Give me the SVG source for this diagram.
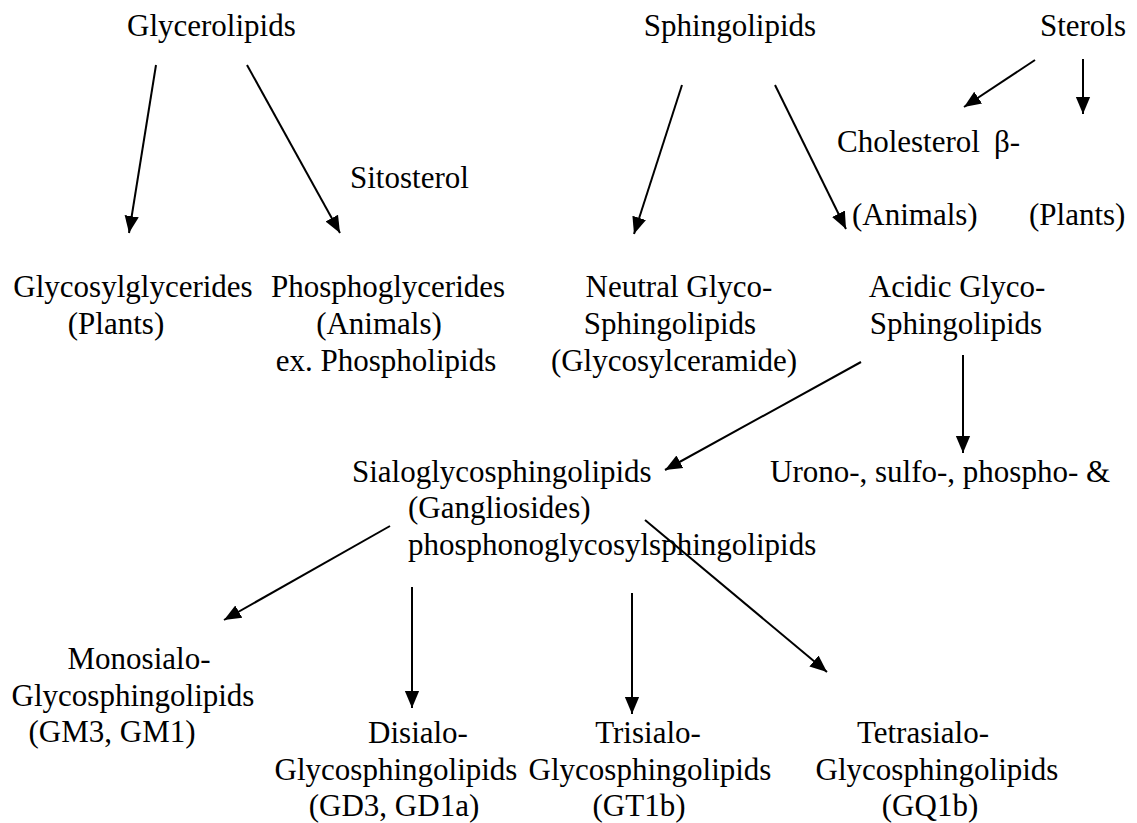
<svg xmlns="http://www.w3.org/2000/svg" width="1137" height="823" viewBox="0 0 1137 823">
<defs>
<marker id="ah" viewBox="0 0 10 10" refX="10" refY="5" markerWidth="17" markerHeight="17" markerUnits="userSpaceOnUse" orient="auto">
<path d="M0,0.8 L10,5 L0,9.2 z" fill="#000"/>
</marker>
<style>
text{font-family:"Liberation Serif","Times New Roman",serif;font-size:31px;fill:#000}
.m{text-anchor:middle}
.c{stroke:#000;stroke-width:2;fill:none;marker-end:url(#ah)}
</style>
</defs>
<rect width="1137" height="823" fill="#fff"/>
<g id="connectors">
<line class="c" x1="156" y1="65" x2="129" y2="233"/>
<line class="c" x1="247" y1="65" x2="340" y2="233"/>
<line class="c" x1="682" y1="85" x2="634" y2="234"/>
<line class="c" x1="775" y1="85" x2="846" y2="229"/>
<line class="c" x1="1035" y1="60" x2="964" y2="107"/>
<line class="c" x1="1083" y1="59" x2="1083" y2="114"/>
<line class="c" x1="861" y1="362" x2="665" y2="470"/>
<line class="c" x1="963" y1="355" x2="963" y2="453"/>
<line class="c" x1="390" y1="526" x2="224" y2="620"/>
<line class="c" x1="412" y1="587" x2="412" y2="708"/>
<line class="c" x1="632" y1="593" x2="632" y2="714"/>
<line class="c" x1="645" y1="520" x2="827" y2="672"/>
</g>
<g id="glycerolipids"><text x="127" y="36">Glycerolipids</text></g>
<g id="sphingolipids"><text class="m" x="730" y="36">Sphingolipids</text></g>
<g id="sterols"><text class="m" x="1083" y="36">Sterols</text></g>
<g id="sitosterol"><text x="350" y="188">Sitosterol</text></g>
<g id="cholesterol"><text x="837" y="152">Cholesterol</text><text x="994" y="152">β-</text></g>
<g id="animals"><text x="852" y="225">(Animals)</text></g>
<g id="plants"><text x="1029" y="225">(Plants)</text></g>
<g id="glycosylglycerides"><text class="m" x="133" y="297">Glycosylglycerides</text><text class="m" x="116" y="334">(Plants)</text></g>
<g id="phosphoglycerides"><text class="m" x="388" y="297">Phosphoglycerides</text><text class="m" x="379" y="334">(Animals)</text><text class="m" x="386" y="371">ex. Phospholipids</text></g>
<g id="neutral"><text class="m" x="679" y="297">Neutral Glyco-</text><text class="m" x="670" y="334">Sphingolipids</text><text class="m" x="674" y="371">(Glycosylceramide)</text></g>
<g id="acidic"><text class="m" x="957" y="297">Acidic Glyco-</text><text class="m" x="956" y="334">Sphingolipids</text></g>
<g id="sialo"><text x="352" y="482">Sialoglycosphingolipids</text><text x="408" y="518">(Gangliosides)</text><text x="408" y="555">phosphonoglycosylsphingolipids</text></g>
<g id="urono"><text x="770" y="482">Urono-, sulfo-, phospho- &amp;</text></g>
<g id="mono"><text class="m" x="139" y="669">Monosialo-</text><text class="m" x="133" y="706">Glycosphingolipids</text><text class="m" x="112" y="742">(GM3, GM1)</text></g>
<g id="di"><text class="m" x="418" y="743">Disialo-</text><text class="m" x="396" y="780">Glycosphingolipids</text><text class="m" x="394" y="816">(GD3, GD1a)</text></g>
<g id="tri"><text class="m" x="648" y="743">Trisialo-</text><text class="m" x="650" y="780">Glycosphingolipids</text><text class="m" x="639" y="816">(GT1b)</text></g>
<g id="tetra"><text class="m" x="923" y="743">Tetrasialo-</text><text class="m" x="937" y="780">Glycosphingolipids</text><text class="m" x="930" y="816">(GQ1b)</text></g>
</svg>
